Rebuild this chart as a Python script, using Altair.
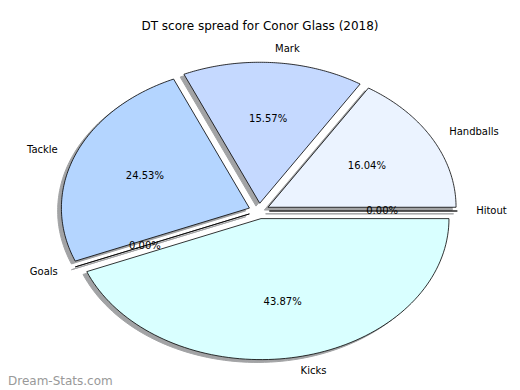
import altair as alt
import pandas as pd

labels = ["Handballs", "Mark", "Tackle", "Goals", "Kicks", "Hitout"]
shares = [16.04, 15.57, 24.53, 0.00, 43.87, 0.00]
colors = ["#ebf3ff", "#c5d9ff", "#b4d5ff", "#ffffff", "#d9ffff", "#ffffff"]
title_text = "DT score spread for Conor Glass (2018)"
watermark = "Dream-Stats.com"

df = pd.DataFrame({"label": labels, "share": shares, "order": list(range(len(labels)))})

E = 0.055      # explode
N = 90         # arc resolution
SH = 0.02      # shadow offset
FONT = "DejaVu Sans"

W, H = 504, 352
CX, CY = 251, 173   # pie centre in plot pixels
RX, RY = 188, 141   # radii in pixels
xdom = [-CX / RX, (W - CX) / RX]
ydom = [-(H - CY) / RY, CY / RY]

xs = alt.Scale(domain=xdom, nice=False, zero=False)
ys = alt.Scale(domain=ydom, nice=False, zero=False)

base = (
    alt.Chart(df)
    .transform_joinaggregate(total="sum(share)")
    .transform_window(cum="sum(share)", sort=[alt.SortField("order")], frame=[None, 0])
    .transform_calculate(
        a0="2*PI*(datum.cum-datum.share)/datum.total",
        a1="2*PI*datum.cum/datum.total",
    )
    .transform_calculate(am="(datum.a0+datum.a1)/2")
    .transform_calculate(ex=f"{E}*cos(datum.am)", ey=f"{E}*sin(datum.am)")
)

poly = (
    base.transform_calculate(idx=f"sequence(0, {N + 2})")
    .transform_flatten(["idx"])
    .transform_calculate(ang=f"datum.a0 + (datum.a1-datum.a0)*(datum.idx-1)/{N}")
    .transform_calculate(
        px="datum.ex + (datum.idx==0 ? 0 : cos(datum.ang))",
        py="datum.ey + (datum.idx==0 ? 0 : sin(datum.ang))",
    )
    .transform_calculate(spx=f"datum.px - {SH}", spy=f"datum.py - {SH}")
)

shadow = poly.mark_line(
    interpolate="linear-closed", fill="#474a4d", stroke="#474a4d",
    strokeWidth=1, opacity=0.5
).encode(
    x=alt.X("spx:Q", scale=xs, axis=None),
    y=alt.Y("spy:Q", scale=ys, axis=None),
    order=alt.Order("idx:Q"),
    detail="label:N",
)

wedges = poly.mark_line(
    interpolate="linear-closed", stroke="black", strokeWidth=0.8
).encode(
    x=alt.X("px:Q", scale=xs, axis=None),
    y=alt.Y("py:Q", scale=ys, axis=None),
    order=alt.Order("idx:Q"),
    detail="label:N",
    fill=alt.Fill("label:N", scale=alt.Scale(domain=labels, range=colors), legend=None),
)

lab = base.transform_calculate(
    lx=f"(1.1+{E})*cos(datum.am)", ly=f"(1.1+{E})*sin(datum.am)"
)
lab_right = lab.transform_filter("datum.lx > 0").mark_text(
    align="left", baseline="middle", font=FONT, fontSize=10, color="black"
).encode(
    x=alt.X("lx:Q", scale=xs, axis=None),
    y=alt.Y("ly:Q", scale=ys, axis=None),
    text="label:N",
)
lab_left = lab.transform_filter("datum.lx <= 0").mark_text(
    align="right", baseline="middle", font=FONT, fontSize=10, color="black"
).encode(
    x=alt.X("lx:Q", scale=xs, axis=None),
    y=alt.Y("ly:Q", scale=ys, axis=None),
    text="label:N",
)

pct = base.transform_calculate(
    tx=f"(0.6+{E})*cos(datum.am)",
    ty=f"(0.6+{E})*sin(datum.am)",
    txt="format(datum.share/datum.total*100, '.2f') + '%'",
).mark_text(
    align="center", baseline="middle", font=FONT, fontSize=10, color="black"
).encode(
    x=alt.X("tx:Q", scale=xs, axis=None),
    y=alt.Y("ty:Q", scale=ys, axis=None),
    text="txt:N",
)

wm = alt.Chart(pd.DataFrame({"t": [watermark]})).mark_text(
    align="left", baseline="middle", font=FONT, fontSize=12, color="#999999"
).encode(x=alt.value(0), y=alt.value(H - 9), text="t:N")

chart = (
    alt.layer(shadow, wedges, lab_right, lab_left, pct, wm)
    .properties(
        width=W,
        height=H,
        title=alt.TitleParams(
            title_text, font=FONT, fontSize=12, fontWeight="normal",
            color="black", anchor="middle", offset=5,
        ),
        autosize=alt.AutoSizeParams(type="none"),
        padding={"left": 0, "top": 30, "right": 0, "bottom": 0},
    )
    .configure_view(stroke=None)
)

chart.save("out.html", embed_options={"renderer": "svg", "actions": False})
